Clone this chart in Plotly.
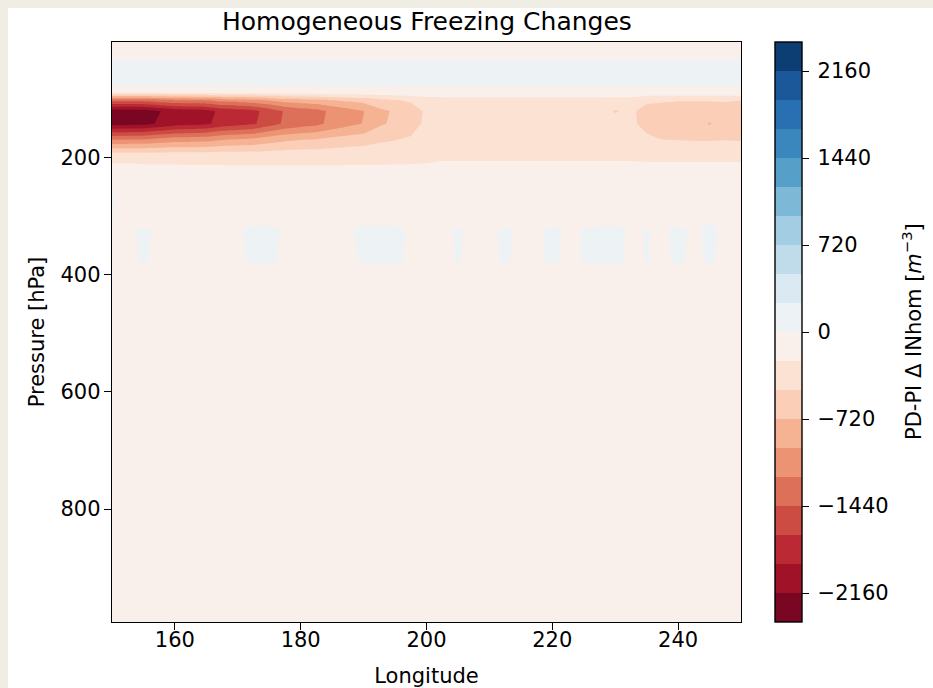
import numpy as np
import plotly.graph_objects as go

# ---------------- data ----------------
lon = [150, 152.5, 155, 157.5, 160, 162.5, 165, 167.5, 170, 172.5,
       175, 177.5, 180, 182.5, 185, 187.5, 190, 192.5, 195, 197.5,
       200, 202.5, 205, 207.5, 210, 212.5, 215, 217.5, 220, 222.5,
       225, 227.5, 230, 232.5, 235, 237.5, 240, 242.5, 245, 247.5, 250]

pressure = [3.64, 7.59, 14.36, 24.61, 38.27, 54.6, 72.01, 87.82, 103.32, 121.55,
            142.99, 168.23, 197.91, 232.83, 273.91, 322.24, 379.1, 445.99, 524.69, 609.78,
            691.39, 763.4, 820.86, 859.53, 887.02, 912.64, 936.2, 957.49, 976.33, 992.56]

p3 = [-20] * 41
p8 = [-20] * 41
p14 = [-20] * 41
p25 = [-30] * 41
p38 = [15] * 41
p55 = [30] * 41
p72 = [15] * 41
p88 = [-25] * 41
p103 = [-1380, -1370, -1360, -1300, -1240, -1220, -1200, -1120, -1080, -1050,
        -960, -870, -830, -800, -730, -680, -640, -550, -500, -450,
        -370, -350, -350, -350, -350, -350, -350, -350, -350, -350,
        -350, -350, -360, -360, -450, -460, -470, -470, -470, -460, -480]
p122 = [-2300, -2290, -2280, -2170, -2060, -2040, -2000, -1860, -1800, -1740,
        -1580, -1420, -1340, -1280, -1150, -1050, -965, -780, -690, -600,
        -440, -420, -420, -410, -410, -410, -420, -420, -410, -410,
        -420, -420, -490, -450, -540, -570, -580, -590, -580, -580, -600]
p143 = [-2250, -2240, -2230, -2130, -2020, -2000, -1960, -1830, -1770, -1710,
        -1550, -1400, -1320, -1260, -1130, -1030, -950, -760, -670, -580,
        -430, -410, -410, -410, -400, -400, -410, -410, -400, -400,
        -410, -410, -420, -440, -540, -580, -600, -600, -740, -590, -600]
p168 = [-1265, -1260, -1250, -1190, -1130, -1120, -1100, -1020, -990, -960,
        -870, -800, -760, -740, -680, -640, -610, -540, -500, -460,
        -400, -380, -380, -380, -380, -380, -380, -380, -380, -380,
        -380, -380, -380, -390, -450, -490, -500, -510, -510, -500, -510]
p198 = [-290, -290, -300, -300, -300, -310, -310, -310, -320, -320,
        -320, -320, -320, -320, -320, -310, -310, -310, -300, -300,
        -290, -280, -280, -280, -280, -280, -280, -280, -280, -280,
        -280, -280, -280, -280, -290, -290, -290, -290, -290, -290, -290]
p233 = [-150] * 21 + [-120] * 20
p274 = [40] + [-200] * 37 + [-30, -200, -200]
p322 = [-10, -10, 10, -10, -10, -10, -10, -10, -10, 20,
        20, -10, -10, -10, -10, -10, 20, 20, 20, -10,
        -10, -10, 5, -10, -10, 10, -10, -10, 15, -10,
        3, 20, 20, -10, 3, -10, 15, -10, 10, -10, -10]
p379 = [-10, -10, 4, -10, -10, -10, -10, -10, -10, 10,
        10, -10, -10, -10, -10, -10, 5, 10, 10, -10,
        -10, -10, 2, -10, -10, 5, -10, -10, 8, -10,
        2, 10, 10, -10, 2, -10, 8, -10, 6, -10, -10]
p446 = [-200] * 41
p_low = [-60] * 41   # all levels below ~500 hPa

d_inhom = [p3, p8, p14, p25, p38, p55, p72, p88, p103, p122, p143, p168,
           p198, p233, p274, p322, p379, p446] + [p_low] * 12

level_start, level_end, level_step = -2400, 2400, 240
cbar_ticks = [-2160, -1440, -720, 0, 720, 1440, 2160]
cbar_ticktext = ["\u2009\u22122160", "\u2009\u22121440", "\u2009\u2212720", "\u20090",
                 "\u2009720", "\u20091440", "\u20092160"]
x_ticks = [160, 180, 200, 220, 240]
y_ticks = [200, 400, 600, 800]

# ---------------- colours (matplotlib RdBu, discrete bands) ----------------
rdbu = ["#67001f", "#b2182b", "#d6604d", "#f4a582", "#fddbc7", "#f7f7f7",
        "#d1e5f0", "#92c5de", "#4393c3", "#2166ac", "#053061"]
anchors = np.array([[int(h[i:i + 2], 16) / 255 for i in (1, 3, 5)] for h in rdbu])
apos = np.linspace(0, 1, len(rdbu))


def cmap(t):
    idx = min(int(t * 256), 255)
    x = idx / 255
    rgb = [int(round(np.interp(x, apos, anchors[:, c]) * 255)) for c in range(3)]
    return "rgb(%d,%d,%d)" % tuple(rgb)


nb = int((level_end - level_start) / level_step)
band_cols = [cmap((k + 0.5) / nb) for k in range(nb)]
ncl = nb + 1
# contour fill colour map (plotly evaluates band k at (k+1)/(nb+1))
contour_scale = [[0, band_cols[0]]] + [[(k + 1) / ncl, band_cols[k]] for k in range(nb)] + [[1, band_cols[-1]]]
# stepped scale for the colour bar (exact -2400..2400)
bar_scale = []
for k in range(nb):
    bar_scale.append([k / nb, band_cols[k]])
    bar_scale.append([(k + 1) / nb, band_cols[k]])

FONT = "DejaVu Sans"
W, H = 933, 688
ML, MR, MT, MB = 112, 192, 42, 66
PW, PH = W - ML - MR, H - MT - MB
PAGE = "#f0ede4"

fig = go.Figure()
fig.add_trace(go.Contour(
    x=lon, y=pressure, z=d_inhom,
    autocontour=False,
    contours=dict(start=level_start, end=level_end, size=level_step,
                  coloring="fill", showlines=False),
    line=dict(width=0, smoothing=0),
    colorscale=contour_scale,
    showscale=False,
    hoverinfo="skip",
))

# invisible carrier of the colour bar
fig.add_trace(go.Scatter(
    x=[lon[0], lon[0]], y=[pressure[-1], pressure[-1]],
    mode="markers",
    marker=dict(size=1, opacity=0, color=[level_start, level_end],
                cmin=level_start, cmax=level_end, colorscale=bar_scale,
                showscale=True,
                colorbar=dict(
                    thickness=27, len=1, lenmode="fraction",
                    x=(775 - ML) / PW, xanchor="left", xpad=0,
                    y=0.5, yanchor="middle", ypad=0,
                    outlinewidth=1.4, outlinecolor="black",
                    tickvals=cbar_ticks, ticktext=cbar_ticktext,
                    ticks="outside", ticklen=7, tickwidth=1.4, tickcolor="black",
                    tickfont=dict(family=FONT, size=21, color="black"),
                )),
    hoverinfo="skip", showlegend=False,
))

axis_common = dict(
    showgrid=False, zeroline=False, showline=True, mirror=True,
    linecolor="black", linewidth=1.4, automargin=False,
    ticks="outside", ticklen=7, tickwidth=1.4, tickcolor="black",
    tickfont=dict(family=FONT, size=21, color="black"),
)

fig.update_layout(
    width=W, height=H,
    margin=dict(l=ML, r=MR, t=MT, b=MB, autoexpand=False),
    paper_bgcolor=PAGE, plot_bgcolor="white",
    font=dict(family=FONT, color="black"),
    showlegend=False,
    xaxis=dict(range=[150, 250], tickvals=x_ticks, ticklabelstandoff=-8,
               title=dict(text="Longitude", font=dict(family=FONT, size=21, color="black"), standoff=16),
               **axis_common),
    yaxis=dict(range=[992.56, 3.64], tickvals=y_ticks, ticklabelstandoff=-1,
               title=dict(text="Pressure [hPa]", font=dict(family=FONT, size=21, color="black"), standoff=10),
               **axis_common),
    shapes=[dict(type="rect", xref="paper", yref="paper", layer="below",
                 x0=(8 - ML) / PW, x1=(W + 10 - ML) / PW,
                 y0=-(H + 10 - MT - PH) / PH, y1=(MT + PH - 8) / PH,
                 fillcolor="white", line=dict(width=0))],
    annotations=[
        dict(text="Homogeneous Freezing Changes", xref="paper", yref="paper",
             x=0.5, y=1, xanchor="center", yanchor="bottom", yshift=4,
             showarrow=False, font=dict(family=FONT, size=25, color="black")),
        dict(text="PD-PI \u0394 INhom [<i>m</i><sup>\u22123</sup>]", xref="paper", yref="paper",
             x=(912 - ML) / PW, y=0.5, xanchor="center", yanchor="middle", textangle=-90,
             showarrow=False, font=dict(family=FONT, size=21, color="black")),
    ],
)

fig.write_html("out.html", config={"displayModeBar": False}, post_script=(
    "document.body.style.margin='0';"
    "document.body.style.background='" + PAGE + "';"
    "document.documentElement.style.overflow='hidden';"))
